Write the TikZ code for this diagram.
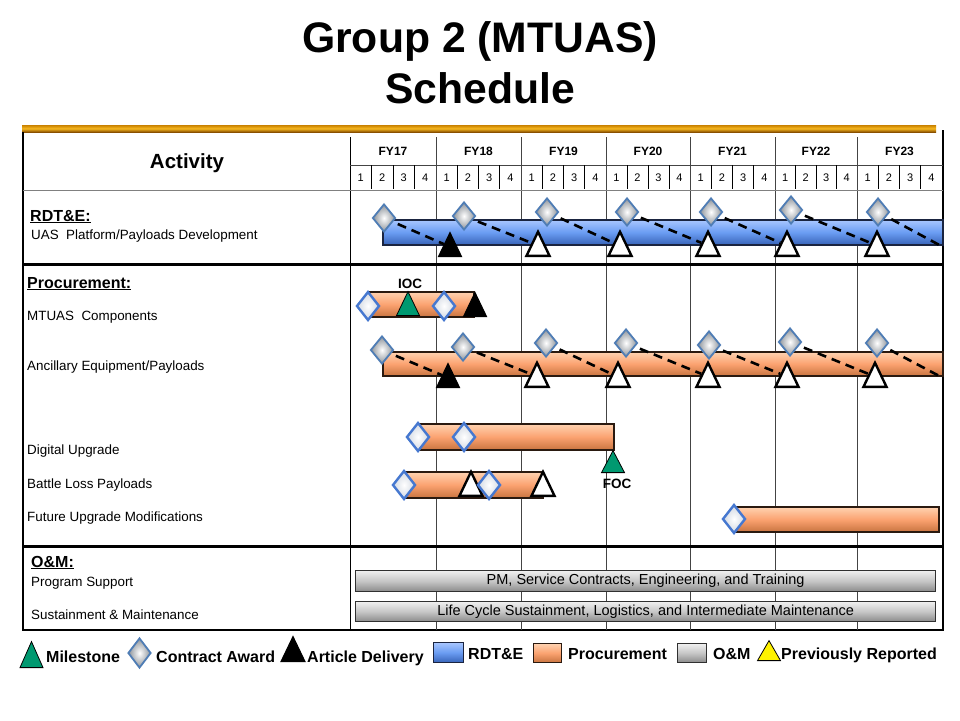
\documentclass[tikz,border=0pt]{standalone}
\usepackage{fontspec}
\setmainfont{Liberation Sans}
\usetikzlibrary{shapes.geometric}
\pgfdeclarelayer{gridlayer}
\pgfdeclarelayer{barlayer}
\pgfdeclarelayer{dashlayer}
\pgfsetlayers{gridlayer,barlayer,dashlayer,main}
\definecolor{goldA}{HTML}{C88000}
\definecolor{goldB}{HTML}{F7B820}
\definecolor{goldC}{HTML}{8A5000}
\definecolor{blueTop}{HTML}{A8C6FF}
\definecolor{blueMid}{HTML}{6A9CF2}
\definecolor{blueBot}{HTML}{3763B8}
\definecolor{blueEdge}{HTML}{1A2440}
\definecolor{orTop}{HTML}{FFD2B0}
\definecolor{orMid}{HTML}{FBA270}
\definecolor{orBot}{HTML}{C87440}
\definecolor{orEdge}{HTML}{2A1A10}
\definecolor{grTop}{HTML}{F0F0F0}
\definecolor{grMid}{HTML}{C6C6C6}
\definecolor{grBot}{HTML}{8A8A8A}
\definecolor{grEdge}{HTML}{303030}
\definecolor{awEdge}{HTML}{4F7DB5}
\definecolor{awGray}{HTML}{8C9299}
\definecolor{awBlue}{HTML}{4678D0}
\definecolor{awLight}{HTML}{D2D8E2}
\definecolor{msGreen}{HTML}{009970}
\definecolor{gridGray}{HTML}{444444}
\newcommand\fsTitle{\fontsize{42.7}{50}\selectfont\bfseries}
\newcommand\fsAct{\fontsize{20.5}{24}\selectfont\bfseries}
\newcommand\fsHead{\fontsize{16}{19}\selectfont\bfseries}
\newcommand\fsLab{\fontsize{13.4}{16}\selectfont}
\newcommand\fsFY{\fontsize{12}{14}\selectfont\bfseries}
\newcommand\fsQ{\fontsize{11}{13}\selectfont}
\newcommand\fsMark{\fontsize{13.5}{16}\selectfont\bfseries}
\newcommand\fsBar{\fontsize{14.5}{17}\selectfont}
\newcommand\fsLeg{\fontsize{16}{19}\selectfont\bfseries}
\begin{document}
\begin{tikzpicture}[x=1pt,y=-1pt,
  lbl/.style={anchor=base west, inner sep=0pt, font=\fsLab},
  hlbl/.style={anchor=base west, inner sep=0pt, font=\fsHead},
  leg/.style={anchor=base west, inner sep=0pt, font=\fsLeg},
  mlab/.style={anchor=base, inner sep=0pt, font=\fsMark},
  fylab/.style={anchor=base, inner sep=0pt, font=\fsFY},
  qnum/.style={anchor=base, inner sep=0pt, font=\fsQ},
  bbar/.style={draw=blueEdge, line width=1.2pt, top color=blueTop, bottom color=blueBot, middle color=blueMid},
  obar/.style={draw=orEdge, line width=1.2pt, top color=orTop, bottom color=orBot, middle color=orMid},
  gbar/.style={draw=grEdge, line width=1.2pt, top color=grTop, bottom color=grBot, middle color=grMid},
  awG/.style={diamond, minimum width=23pt, minimum height=28pt, inner sep=0pt, draw=awEdge, line width=1.8pt, inner color=white, outer color=awGray},
  awW/.style={diamond, minimum width=23pt, minimum height=29pt, inner sep=0pt, draw=awBlue, line width=2.4pt, inner color=white, outer color=awLight},
  tri/.style={isosceles triangle, shape border rotate=90, isosceles triangle stretches, minimum width=23pt, minimum height=24pt, inner sep=0pt, anchor=lower side, draw=black},
  triB/.style={tri, fill=black, line width=1pt},
  triW/.style={tri, fill=white, line width=2.4pt},
  triM/.style={tri, fill=msGreen, line width=0.8pt},
  triY/.style={tri, fill=yellow, line width=0.8pt},
  dashlink/.style={draw=black, line width=2.6pt, dash pattern=on 9pt off 6pt},
  yearline/.style={draw=gridGray, line width=1pt}
]
\useasboundingbox (0,0) rectangle (960,720);

% ---------- title
\node[anchor=base, inner sep=0pt, font=\fsTitle] (title1) at (480,52) {Group 2 (MTUAS)};
\node[anchor=base, inner sep=0pt, font=\fsTitle] (title2) at (480,103) {Schedule};

% ---------- grid
\begin{pgfonlayer}{gridlayer}
\path[top color=goldA, bottom color=goldC, middle color=goldB] (22,125) rectangle (936,132);
\draw[line width=1.5pt] (23,132) -- (23,630) -- (943,630) -- (943,130);
\draw[line width=1pt] (350,137) -- (350,630);
\foreach \xa in {436,521,606,690,775,857} \draw[yearline] (\xa,137) -- (\xa,630);
\draw[line width=1pt, gridGray] (350,165) -- (943,165);
\draw[line width=1pt, gray] (23,190) -- (943,190);
\foreach \xa/\xb/\lab [count=\i] in {350/436/FY17,436/521/FY18,521/606/FY19,606/690/FY20,690/775/FY21,775/857/FY22,857/942/FY23}{
  \foreach \k in {1,2,3} \draw[line width=0.8pt] ({\xa+\k*(\xb-\xa)/4},165) -- ({\xa+\k*(\xb-\xa)/4},189);
  \foreach \k in {1,2,3,4} \node[qnum] (q\i-\k) at ({\xa+(\k-0.5)*(\xb-\xa)/4},181) {\k};
  \node[fylab] (fy\i) at ({(\xa+\xb)/2},155) {\lab};
}
\draw[line width=3pt] (23,264) -- (943,264);
\draw[line width=3pt] (23,546) -- (943,546);
\end{pgfonlayer}

% ---------- left labels
\node[anchor=base, inner sep=0pt, font=\fsAct] (acthead) at (187,168) {Activity};
\node[hlbl] (labR) at (30,221) {\underline{RDT\&E:}};
\node[lbl] (labR1) at (31,239) {UAS\ \ Platform/Payloads Development};
\node[hlbl] (labP) at (27,288) {\underline{Procurement:}};
\node[lbl] (labP1) at (27,320) {MTUAS\ \ Components};
\node[lbl] (labP2) at (27,370) {Ancillary Equipment/Payloads};
\node[lbl] (labP3) at (27,454) {Digital Upgrade};
\node[lbl] (labP4) at (27,488) {Battle Loss Payloads};
\node[lbl] (labP5) at (27,521) {Future Upgrade Modifications};
\node[hlbl] (labO) at (31,567) {\underline{O\&M:}};
\node[lbl] (labO1) at (31,586) {Program Support};
\node[lbl] (labO2) at (31,619) {Sustainment \& Maintenance};

% ---------- bars
\begin{pgfonlayer}{barlayer}
\path[bbar] (383,220) rectangle (943,245);
\path[obar] (368,292) rectangle (474,317);
\path[obar] (383,352) rectangle (943,376);
\path[obar] (418,424) rectangle (614,450);
\path[obar] (404,472) rectangle (543,498);
\path[obar] (734,507) rectangle (939,532);
\end{pgfonlayer}
\node[gbar, anchor=north west, minimum width=580pt, minimum height=21pt, inner sep=0pt, font=\fsBar] (om1) at (355,570) {PM, Service Contracts, Engineering, and Training};
\node[gbar, anchor=north west, minimum width=580pt, minimum height=20pt, inner sep=0pt, font=\fsBar] (om2) at (355,601) {Life Cycle Sustainment, Logistics, and Intermediate Maintenance};

% ---------- RDT&E markers
\foreach \x/\y [count=\i] in {384/218,464/216,547/212,627/212,711/212,791/210,878/212}
  \node[awG] (ra\i) at (\x,\y) {};
\node[triB] (rt1) at (450,257) {};
\foreach \x [count=\i from 2] in {538,620,708,787,877}
  \node[triW] (rt\i) at (\x,257) {};
\coordinate (rEnd) at (943,247);

% ---------- Ancillary markers
\foreach \x/\y [count=\i] in {382/350,463/347,546/343,626/343,709/345,790/342,877/343}
  \node[awG] (aa\i) at (\x,\y) {};
\node[triB] (at1) at (448,388) {};
\foreach \x [count=\i from 2] in {537,618,708,787,875}
  \node[triW] (at\i) at (\x,388) {};
\coordinate (aEnd) at (943,378);

% ---------- dashed links
\begin{pgfonlayer}{dashlayer}
\foreach \i in {1,...,6} {
  \draw[dashlink] (ra\i.center) -- (rt\i.left side);
  \draw[dashlink] (aa\i.center) -- (at\i.left side);
}
\draw[dashlink] (ra7.center) -- (rEnd);
\draw[dashlink] (aa7.center) -- (aEnd);
\end{pgfonlayer}

% ---------- MTUAS components
\node[awW] (mc1) at (368,306) {};
\node[triM] (ms1) at (408,316) {};
\node[mlab] (ioc) at (410,288) {IOC};
\node[awW] (mc2) at (444,306) {};
\node[triB] (mt1) at (475,317) {};

% ---------- Digital upgrade
\node[awW] (du1) at (418,437) {};
\node[awW] (du2) at (464,437) {};
\node[triM, minimum height=22pt] (ms2) at (613,473) {};
\node[mlab] (foc) at (617,488) {FOC};

% ---------- Battle loss
\node[awW] (bl1) at (404,485) {};
\node[triW] (bt1) at (471,497) {};
\node[awW] (bl2) at (489,485) {};
\node[triW] (bt2) at (543,497) {};

% ---------- Future upgrade
\node[awW] (fu1) at (734,519) {};

% ---------- legend
\node[triM, minimum width=23pt, minimum height=26pt] (legM) at (31.5,668) {};
\node[leg] (legMt) at (46,662) {Milestone};
\node[awG, minimum width=23pt, minimum height=30pt] (legA) at (139.5,653) {};
\node[leg] (legAt) at (156,662) {Contract Award};
\node[triB, minimum width=24pt, minimum height=25pt] (legD) at (293,662) {};
\node[leg] (legDt) at (307,662) {Article Delivery};
\node[bbar, anchor=north west, minimum width=30pt, minimum height=20pt, inner sep=0pt] (legR) at (433,642) {};
\node[leg] (legRt) at (468,659) {RDT\&E};
\node[obar, anchor=north west, minimum width=28pt, minimum height=19pt, inner sep=0pt] (legP) at (533,643) {};
\node[leg] (legPt) at (568,659) {Procurement};
\node[gbar, anchor=north west, minimum width=29pt, minimum height=19pt, inner sep=0pt] (legO) at (677,643) {};
\node[leg] (legOt) at (713,659) {O\&M};
\node[triY, minimum width=23pt, minimum height=20pt] (legY) at (769,661) {};
\node[leg] (legYt) at (781,659) {Previously Reported};
\end{tikzpicture}
\end{document}
